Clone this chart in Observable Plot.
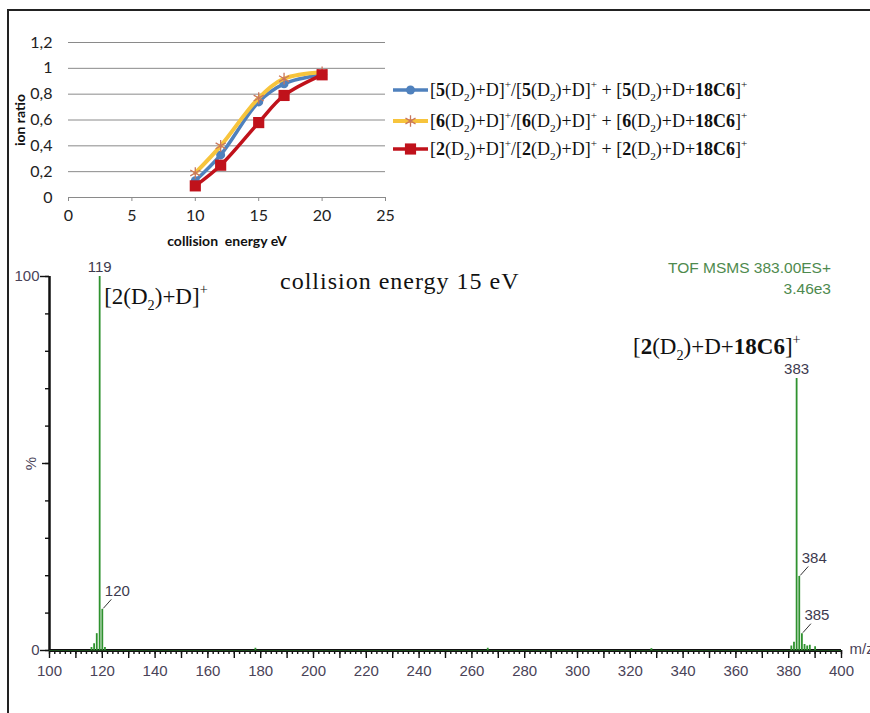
<!DOCTYPE html>
<html><head><meta charset="utf-8">
<script src="https://cdn.jsdelivr.net/npm/d3@7"></script>
<script src="https://cdn.jsdelivr.net/npm/@observablehq/plot@0.6"></script>
<style>
html,body{margin:0;padding:0;background:#fff;}
#wrap{position:relative;width:870px;height:713px;overflow:hidden;background:#fff;}
#wrap svg{position:absolute;left:0;top:0;}
#frame{position:absolute;left:7px;top:9px;width:900px;height:760px;border-left:2px solid #222;border-top:2px solid #222;}
</style></head>
<body><div id="wrap"><div id="frame"></div></div>
<script>
// ---------- inset chart data ----------
const energy = [10, 12, 15, 17, 20];
const ratio5 = [0.13, 0.33, 0.74, 0.88, 0.95];
const ratio6 = [0.19, 0.40, 0.77, 0.92, 0.97];
const ratio2 = [0.09, 0.25, 0.58, 0.79, 0.95];
const seriesN = ["5", "6", "2"];
const insetYTicks = [0, 0.2, 0.4, 0.6, 0.8, 1, 1.2];
const insetXTicks = [0, 5, 10, 15, 20, 25];

// ---------- spectrum data ----------
const mz        = [115.9, 116.9, 117.9, 119, 120, 121, 178, 266, 328, 381, 382, 383, 384, 385, 386, 387, 388, 390];
const intensity = [0.8,   1.8,   4.5,   100, 11,  0.8, 0.6, 0.6, 0.5, 1.2, 2.2, 72.7, 19.8, 4.5, 1.6, 1.2, 1.4, 1.0];
const labeledMz  = [119, 120, 383, 384, 385];
const labeledInt = [100, 11, 72.7, 19.8, 4.5];
const leaderMz   = [120, 384, 385];
const mzLabelTicks = d3.range(100, 401, 20);
const mzMinorTicks = d3.range(100, 401, 2);
const mzMidTicks   = d3.range(100, 401, 10);
const pctTicks     = d3.range(0, 101, 10);
const pctLabelTicks = [0, 100];

const GREEN = "#2f922f";
const wrap = document.getElementById("wrap");

// ---------- rich text helper (sub / sup / bold) ----------
function rich(sel, x, y, parts, size, opt = {}) {
  const t = sel.append("text")
    .attr("x", x).attr("y", y)
    .attr("font-family", "'Liberation Serif','Times New Roman',serif")
    .attr("font-size", size).attr("fill", "#111")
    .attr("text-anchor", opt.anchor || "start");
  let shift = 0;
  for (const p of parts) {
    const [s, k] = typeof p === "string" ? [p, ""] : p;
    const ts = t.append("tspan").text(s);
    const target = k === "sub" ? size * 0.28 : k === "sup" ? -size * 0.42 : 0;
    if (target - shift !== 0) ts.attr("dy", target - shift);
    shift = target;
    if (k === "sub" || k === "sup") ts.attr("font-size", size * 0.62);
    if (k === "b") ts.attr("font-weight", "bold");
  }
  return t;
}

// ---------- main spectrum ----------
const spectrum = mz.map((m, i) => ({mz: m, int: intensity[i]}));
const labels = labeledMz.map((m, i) => ({mz: m, int: labeledInt[i], lead: leaderMz.includes(m)}));
const leaders = labels.filter(d => d.lead);
const direct = labels.filter(d => !d.lead);
const pxPerMz = (841 - 49) / 300, pxPerPct = (650 - 276) / 100;

const main = Plot.plot({
  width: 870, height: 713,
  marginLeft: 49, marginRight: 29, marginTop: 276, marginBottom: 63,
  x: {domain: [100, 400]},
  y: {domain: [0, 100]},
  style: {background: "transparent", fontFamily: "'Liberation Sans', Arial, sans-serif", overflow: "visible"},
  marks: [
    Plot.axisX({ticks: mzMinorTicks, tickSize: 4, tickFormat: () => "", label: null, stroke: "#111", strokeWidth: 1.4}),
    Plot.axisX({ticks: mzMidTicks, tickSize: 8, tickFormat: () => "", label: null, stroke: "#111", strokeWidth: 1.4}),
    Plot.axisX({ticks: mzLabelTicks, tickSize: 0, tickPadding: 15, label: null, fontSize: 15, fill: "#4a4358"}),
    Plot.axisY({ticks: pctTicks, tickSize: 4, tickFormat: () => "", label: null, stroke: "#111", strokeWidth: 1.4}),
    Plot.axisY({ticks: [50], tickSize: 7, tickFormat: () => "", label: null, stroke: "#111", strokeWidth: 1.4}),
    Plot.axisY({ticks: pctLabelTicks, tickSize: 9, tickPadding: 1, label: null, fontSize: 15, fill: "#4a4358", stroke: "#111", strokeWidth: 1.4}),
    Plot.text(["%"], {x: 100, y: 50, dx: -18, rotate: -90, fontSize: 15, fill: "#4a4358"}),
    Plot.ruleX([100], {y1: 0, y2: 100, stroke: "#111", strokeWidth: 2.5}),
    Plot.ruleY([0], {x1: 100, x2: 400, stroke: "#111", strokeWidth: 3}),
    Plot.ruleY([0], {x1: 100, x2: 400, stroke: GREEN, strokeWidth: 0.8, strokeOpacity: 0.6}),
    Plot.ruleX(spectrum, {x: "mz", y1: 0, y2: "int", stroke: GREEN, strokeWidth: 1.8}),
    Plot.text(direct, {x: "mz", y: "int", text: d => String(d.mz), dy: -9, fontSize: 15, fill: "#3d3a4e"}),
    Plot.link(leaders, {x1: d => d.mz + 1 / pxPerMz, y1: d => d.int + 1 / pxPerPct,
                        x2: d => d.mz + 9 / pxPerMz, y2: d => d.int + 10 / pxPerPct,
                        stroke: "#333", strokeWidth: 1}),
    Plot.text(leaders, {x: "mz", y: "int", text: d => String(d.mz), dx: 15, dy: -18, fontSize: 15, fill: "#3d3a4e"}),
    Plot.text(["m/z"], {x: 400, y: 0, dx: 8, dy: -1, textAnchor: "start", fontSize: 15, fill: "#4a4358"})
  ]
});
wrap.appendChild(main);
const ms = d3.select(main);
const X = main.scale("x"), Y = main.scale("y");

// annotations on spectrum
rich(ms, X.apply(119) + 5, 304, ["[2(D", ["2", "sub"], ")+D]", ["+", "sup"]], 23);
ms.append("text").attr("x", 280).attr("y", 289).attr("text-anchor", "start")
  .attr("font-family", "'Liberation Serif','Times New Roman',serif")
  .attr("font-size", 24).attr("letter-spacing", 1).attr("fill", "#111")
  .text("collision energy 15 eV");
rich(ms, 633, 354, ["[", ["2", "b"], "(D", ["2", "sub"], ")+D+", ["18C6", "b"], "]", ["+", "sup"]], 23);
ms.append("text").attr("x", 831).attr("y", 273).attr("text-anchor", "end")
  .attr("font-family", "'Liberation Sans', Arial, sans-serif").attr("font-size", 15.5)
  .attr("fill", "#4e8a4e").text("TOF MSMS 383.00ES+");
ms.append("text").attr("x", 831).attr("y", 294).attr("text-anchor", "end")
  .attr("font-family", "'Liberation Sans', Arial, sans-serif").attr("font-size", 15.5)
  .attr("fill", "#4e8a4e").text("3.46e3");

// ---------- inset chart ----------
const colors = {"5": "#4f81bd", "6": "#f7c43c", "2": "#c0121b"};
const ratios = {"5": ratio5, "6": ratio6, "2": ratio2};
const rows = seriesN.flatMap(n => energy.map((e, i) => ({n, e, r: ratios[n][i]})));
const sel = n => rows.filter(d => d.n === n);

const inset = Plot.plot({
  width: 870, height: 250,
  marginLeft: 68, marginRight: 485, marginTop: 42, marginBottom: 53,
  x: {domain: [0, 25]},
  y: {domain: [0, 1.2]},
  style: {background: "transparent", fontFamily: "Lato, 'Open Sans', sans-serif", overflow: "visible"},
  marks: [
    Plot.gridY({ticks: insetYTicks.slice(1), stroke: "#8a8a8a", strokeOpacity: 1}),
    Plot.ruleY([0], {stroke: "#8a8a8a"}),
    Plot.axisX({ticks: insetXTicks, tickSize: 4, tickFormat: () => "", label: null, stroke: "#8a8a8a"}),
    Plot.axisX({ticks: insetXTicks, tickSize: 0, tickPadding: 12, label: null, fontSize: 16, fill: "#222"}),
    Plot.axisY({ticks: insetYTicks, tickSize: 0, tickPadding: 16, label: null, fontSize: 16, fill: "#222",
                tickFormat: d => String(d).replace(".", ",")}),
    Plot.line(sel("5"), {x: "e", y: "r", stroke: colors["5"], strokeWidth: 3.5, curve: "catmull-rom"}),
    Plot.dot(sel("5"), {x: "e", y: "r", r: 4.5, fill: colors["5"], symbol: "circle"}),
    Plot.line(sel("6"), {x: "e", y: "r", stroke: colors["6"], strokeWidth: 4, curve: "catmull-rom"}),
    Plot.dot(sel("6"), {x: "e", y: "r", r: 5.5, stroke: "#c9775e", strokeWidth: 1.3, symbol: "asterisk"}),
    Plot.line(sel("2"), {x: "e", y: "r", stroke: colors["2"], strokeWidth: 3.5, curve: "catmull-rom"}),
    Plot.dot(sel("2"), {x: "e", y: "r", r: 6.3, fill: colors["2"], symbol: "square"}),
    Plot.text(["collision  energy eV"], {frameAnchor: "bottom", dy: 48, fontSize: 14, fontWeight: "bold", fill: "#111"}),
    Plot.text(["ion ratio"], {frameAnchor: "left", textAnchor: "middle", dx: -48, rotate: -90, fontSize: 14, fontWeight: "bold", fill: "#111"})
  ]
});
wrap.appendChild(inset);
const is = d3.select(inset);

// legend
const legendY = [90, 121, 149];
seriesN.forEach((n, i) => {
  const y = legendY[i];
  is.append("line").attr("x1", 393).attr("x2", 428).attr("y1", y).attr("y2", y)
    .attr("stroke", colors[n]).attr("stroke-width", n === "6" ? 4 : 3.5);
  const sym = n === "5" ? d3.symbolCircle : n === "6" ? d3.symbolAsterisk : d3.symbolSquare;
  const size = n === "5" ? Math.PI * 4.5 * 4.5 : n === "6" ? Math.PI * 5.5 * 5.5 : Math.PI * 6.3 * 6.3;
  const p = is.append("path").attr("transform", `translate(410.5,${y})`).attr("d", d3.symbol(sym, size)());
  if (n === "6") p.attr("fill", "none").attr("stroke", "#c9775e").attr("stroke-width", 1.3);
  else p.attr("fill", colors[n]);
  rich(is, 430, y + 6, ["[", [n, "b"], "(D", ["2", "sub"], ")+D]", ["+", "sup"], "/[", [n, "b"], "(D", ["2", "sub"],
    ")+D]", ["+", "sup"], " + [", [n, "b"], "(D", ["2", "sub"], ")+D+", ["18C6", "b"], "]", ["+", "sup"]], 18);
});
</script>
</body></html>
